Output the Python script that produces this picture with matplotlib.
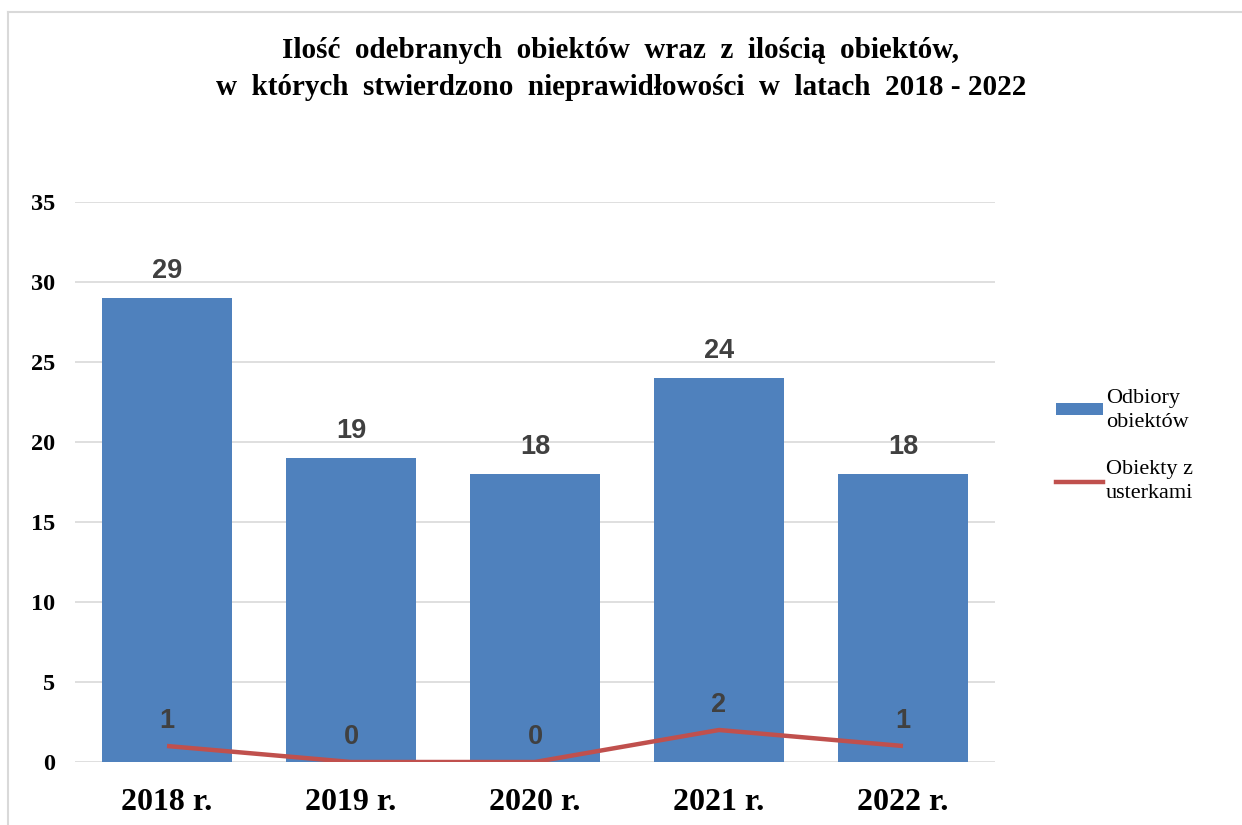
import matplotlib.pyplot as plt
from matplotlib.lines import Line2D
from matplotlib.patches import Patch

years = ['2018 r.', '2019 r.', '2020 r.', '2021 r.', '2022 r.']
odbiory = [29, 19, 18, 24, 18]
usterki = [1, 0, 0, 2, 1]

BLUE = '#4F81BD'
RED = '#C0504D'
GRID = '#D9D9D9'
LABEL = '#404040'

fig = plt.figure(figsize=(12.42, 8.25), dpi=100)
ax = fig.add_axes([75 / 1242, 1 - 762 / 825, 920 / 1242, 560 / 825])

x = range(len(years))
ax.bar(x, odbiory, width=0.707, color=BLUE, zorder=2)
ax.plot(x, usterki, color=RED, linewidth=3.2, zorder=3, solid_capstyle='butt')

for i, v in enumerate(odbiory):
    ax.annotate(str(v), (i, v), xytext=(0, 10), textcoords='offset points',
                ha='center', va='bottom', fontsize=19.5, fontweight='bold',
                color=LABEL, family='Liberation Sans')
for i, v in enumerate(usterki):
    ax.annotate(str(v), (i, v), xytext=(0, 9), textcoords='offset points',
                ha='center', va='bottom', fontsize=19.5, fontweight='bold',
                color=LABEL, family='Liberation Sans', zorder=4)

ax.set_xlim(-0.5, 4.5)
ax.set_ylim(0, 35)
ax.set_yticks(range(0, 36, 5))
ax.set_xticks(list(x))
ax.set_xticklabels(years)
ax.grid(axis='y', color=GRID, linewidth=1.2, zorder=0)
ax.set_axisbelow(True)
for s in ax.spines.values():
    s.set_visible(False)
ax.tick_params(axis='both', length=0)
ax.tick_params(axis='y', pad=14, labelsize=17.5)
ax.tick_params(axis='x', pad=19, labelsize=23)
for lab in ax.get_yticklabels() + ax.get_xticklabels():
    lab.set_family('Liberation Serif')
    lab.set_fontweight('bold')

fig.text(0.5, 1 - 69 / 825,
         'Ilość  odebranych  obiektów  wraz  z  ilością  obiektów,\n'
         'w  których  stwierdzono  nieprawidłowości  w  latach  2018 - 2022',
         ha='center', va='center', fontsize=21, fontweight='bold',
         family='Liberation Serif', linespacing=1.45)

handles = [Patch(facecolor=BLUE), Line2D([0], [0], color=RED, linewidth=3.2)]
leg = fig.legend(handles, ['Odbiory\nobiektów', 'Obiekty z\nusterkami'],
                 loc='center left', bbox_to_anchor=(1036 / 1242, 1 - 446 / 825),
                 frameon=False, prop={'family': 'Liberation Serif', 'size': 16},
                 handlelength=2.1, handleheight=0.45, handletextpad=0.15,
                 labelspacing=1.3)
for t in leg.get_texts():
    t.set_linespacing(1.35)

fig.add_artist(Line2D([8 / 1242, 8 / 1242], [0, 1 - 12 / 825], color=GRID,
                      linewidth=1.5, transform=fig.transFigure))
fig.add_artist(Line2D([8 / 1242, 1], [1 - 12 / 825, 1 - 12 / 825], color=GRID,
                      linewidth=1.5, transform=fig.transFigure))

fig.savefig('out.png', dpi=100)
